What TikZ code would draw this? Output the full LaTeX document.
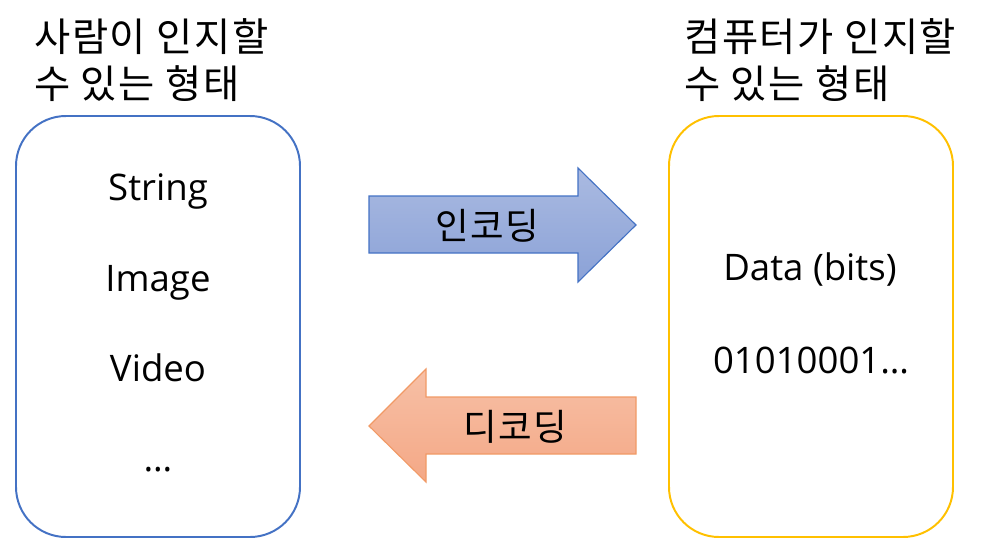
\documentclass[tikz,border=0pt]{standalone}
\usepackage{fontspec}
\setmainfont{Open Sans}
\newfontfamily\kor[LetterSpace=4]{Noto Sans CJK KR}

\definecolor{humanblue}{HTML}{4472C4}
\definecolor{pcyellow}{HTML}{FFC000}
\definecolor{enctop}{HTML}{AABAE1}
\definecolor{encbot}{HTML}{8BA2D7}
\definecolor{dectop}{HTML}{F7C0A6}
\definecolor{decbot}{HTML}{F4A886}
\definecolor{decline}{HTML}{F19A66}

\begin{document}
\begin{tikzpicture}[x=0.025cm,y=-0.025cm,
    box/.style={rounded corners=1.25cm, line width=1.4pt},
    item/.style={font=\fontsize{26}{32}\selectfont, inner sep=0pt, anchor=base},
    heading/.style={font=\kor\fontsize{28}{33.4}\selectfont, inner sep=0pt, align=left, anchor=north west},
    label/.style={font=\kor\fontsize{26}{32}\selectfont, inner sep=0pt}]
  \useasboundingbox (0,0) rectangle (987,539);

  % the two forms
  \draw[box, draw=humanblue] (16,116) rectangle (300,537);
  \draw[box, draw=pcyellow] (669,116) rectangle (953,537);

  \node (human) at (34,18) [heading] {사람이 인지할\\수 있는 형태};
  \node (pc) at (684,18) [heading] {컴퓨터가 인지할\\수 있는 형태};

  \node (str) at (158,200) [item] {String};
  \node (img) at (158,291) [item] {Image};
  \node (vid) at (158,381) [item] {Video};
  \node (etc) at (158,471) [item] {…};

  \node (data) at (810,280) [item] {Data (bits)};
  \node (bits) at (811,373) [item] {01010001…};

  % block arrows
  \draw[humanblue, line width=0.8pt, top color=enctop, bottom color=encbot]
    (369,196) -- (578,196) -- (578,168) -- (636,225) -- (578,282) -- (578,253) -- (369,253) -- cycle;
  \draw[decline, line width=0.8pt, top color=dectop, bottom color=decbot]
    (636,397) -- (426,397) -- (426,369) -- (369,426) -- (426,482) -- (426,454) -- (636,454) -- cycle;

  \node (enc) at (487,226) [label] {인코딩};
  \node (dec) at (515,427) [label] {디코딩};
\end{tikzpicture}
\end{document}
